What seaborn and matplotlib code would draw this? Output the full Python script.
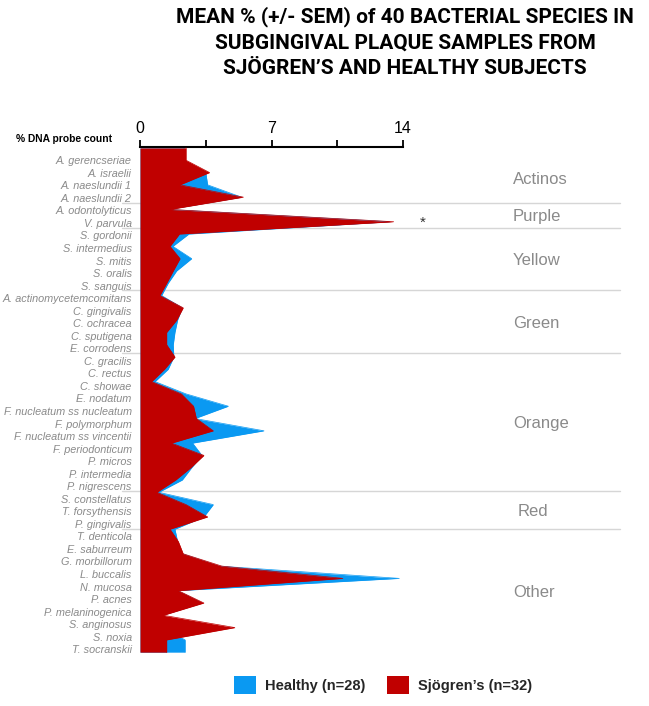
import numpy as np
import matplotlib
matplotlib.use("Agg")
import matplotlib.pyplot as plt
from matplotlib.patches import Patch
from matplotlib.transforms import blended_transform_factory
import seaborn as sns

# ---------------- data ----------------
species = [
    "A. gerencseriae", "A. israelii", "A. naeslundii 1", "A. naeslundii 2",
    "A. odontolyticus", "V. parvula",
    "S. gordonii", "S. intermedius", "S. mitis", "S. oralis", "S. sanguis",
    "A. actinomycetemcomitans", "C. gingivalis", "C. ochracea", "C. sputigena", "E. corrodens",
    "C. gracilis", "C. rectus", "C. showae", "E. nodatum", "F. nucleatum ss nucleatum",
    "F. polymorphum", "F. nucleatum ss vincentii", "F. periodonticum", "P. micros",
    "P. intermedia", "P. nigrescens",
    "S. constellatus", "T. forsythensis", "P. gingivalis",
    "T. denticola", "E. saburreum", "G. morbillorum", "L. buccalis", "N. mucosa",
    "P. acnes", "P. melaninogenica", "S. anginosus", "S. noxia", "T. socranskii",
]
healthy = [
    2.35, 3.5, 3.6, 5.4, 1.5, 13.3,
    2.6, 1.75, 2.75, 1.95, 1.5,
    1.15, 2.25, 2.0, 1.86, 1.77,
    1.8, 1.5, 0.8, 2.45, 4.7, 2.93, 6.6, 2.8, 3.3, 2.75, 2.25,
    1.0, 3.9, 3.4,
    1.86, 2.0, 2.25, 4.2, 13.8, 2.0, 3.3, 1.2, 1.2, 2.4,
]
sjogren = [
    2.45, 3.7, 2.13, 5.5, 1.6, 13.5,
    2.1, 1.6, 2.13, 1.77, 1.42,
    1.06, 2.3, 1.95, 1.42, 1.42,
    1.86, 1.3, 0.62, 2.2, 2.85, 3.0, 3.9, 1.68, 3.4, 2.7, 1.9,
    0.9, 2.45, 3.6,
    1.6, 2.04, 2.3, 4.35, 10.8, 2.04, 3.4, 1.24, 5.05, 1.42,
]
groups = ["Actinos", "Purple", "Yellow", "Green", "Orange", "Red", "Other"]
group_sizes = [4, 2, 5, 5, 11, 3, 10]
x_ticks = [0, 3.5, 7, 10.5, 14]
x_ticklabels = ["0", "", "7", "", "14"]
significant = ["V. parvula"]

BLUE = "#0A99F2"
RED = "#C00000"
GRAY_TXT = "#8a8a8a"

# ---------------- figure ----------------
sns.set_theme(style="white")
plt.rcParams["font.family"] = ["Liberation Sans", "DejaVu Sans"]

W, H = 649, 706
fig = plt.figure(figsize=(W / 100, H / 100), dpi=100)
ax = fig.add_axes([140 / W, 1 - 655 / H, 263 / W, (655 - 146.7) / H])

rows = np.arange(len(species))
y_ext = np.concatenate([[rows[0] - 1], rows, [rows[-1] + 1]])


def ext(v):
    v = np.asarray(v, dtype=float)
    return np.concatenate([[v[0]], v, [v[-1]]])


for z, (vals, col) in enumerate([(healthy, BLUE), (sjogren, RED)]):
    ax.fill_betweenx(y_ext, 0, ext(vals), color=col, lw=0, zorder=2 + z)
    sns.lineplot(x=ext(vals), y=y_ext, orient="y", sort=False, color=col,
                 lw=0.5, ax=ax, legend=False, zorder=2.5 + z)

ax.set_xlim(0, 14)
ax.set_ylim(40.23, -1.1)

for s in ["left", "right", "bottom"]:
    ax.spines[s].set_visible(False)
ax.spines["top"].set_visible(True)
ax.spines["top"].set_linewidth(1.5)
ax.spines["top"].set_color("black")

ax.xaxis.tick_top()
ax.set_xticks(x_ticks)
ax.set_xticklabels(x_ticklabels)
ax.tick_params(axis="x", direction="out", length=5, width=1.3, pad=3,
               labelsize=11.5, colors="black", top=True, bottom=False)
ax.set_xlabel("")
ax.set_ylabel("")

lab_step = 1.0195
ax.set_yticks(rows * lab_step)
ax.set_yticklabels(species, fontstyle="italic", fontsize=7.8, color=GRAY_TXT)
ax.tick_params(axis="y", length=0, pad=6, left=False)

# group separators and labels
trans = blended_transform_factory(ax.transAxes, ax.transData)
bounds = np.cumsum(group_sizes)
start = 0
for g, b in zip(groups, bounds):
    if b < len(species):
        yb = (b - 0.5) * lab_step - 0.12
        ax.plot([-0.068, 1.825], [yb, yb], color="#d6d6d6", lw=1.0,
                transform=trans, clip_on=False, zorder=1)
    yc = (start + b - 1) / 2 * lab_step
    xg = 1.437 if g == "Red" else 1.418
    ax.text(xg, yc, g, transform=trans, ha="left", va="center",
            fontsize=12, color=GRAY_TXT)
    start = b

for sp in significant:
    i = species.index(sp)
    ax.text(15.05, i + 0.1, "*", ha="center", va="center", fontsize=11,
            color="#333333", clip_on=False)

fig.text(112 / W, 1 - 139.5 / H, "% DNA probe count", ha="right", va="center",
         fontsize=7.4, fontweight="bold", color="black")

fig.text(405 / W, 1 - 6 / H,
         "MEAN % (+/- SEM) of 40 BACTERIAL SPECIES IN\n"
         "SUBGINGIVAL PLAQUE SAMPLES FROM\n"
         "SJÖGREN’S AND HEALTHY SUBJECTS",
         ha="center", va="top", fontsize=15, fontweight="bold",
         family=["Roboto", "Liberation Sans", "DejaVu Sans"], linespacing=1.45,
         color="black")

handles = [Patch(facecolor=BLUE, edgecolor="none", label="Healthy (n=28)"),
           Patch(facecolor=RED, edgecolor="none", label="Sjögren’s (n=32)")]
fig.legend(handles=handles, loc="center", bbox_to_anchor=(383 / W, 1 - 685 / H),
           ncol=2, frameon=False, handlelength=1.5, handleheight=1.5,
           columnspacing=1.5, handletextpad=0.6,
           prop={"weight": "bold", "size": 10.5})

fig.savefig("out.png", dpi=100)
